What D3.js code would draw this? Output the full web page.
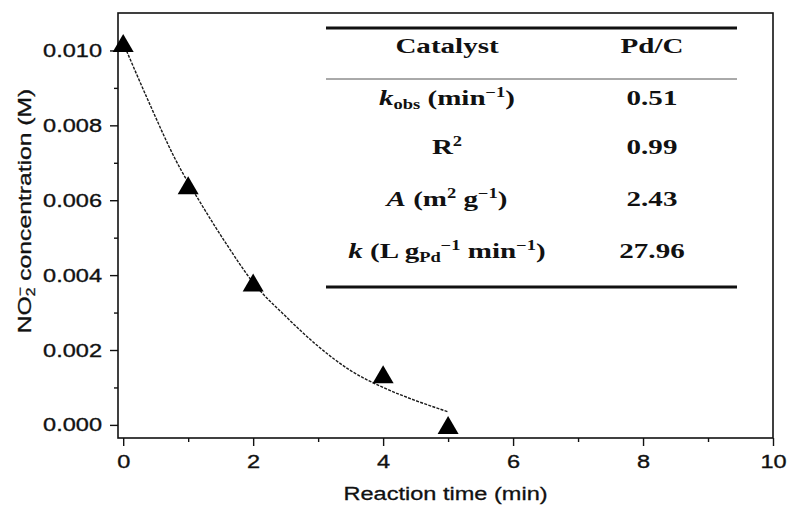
<!DOCTYPE html>
<html>
<head>
<meta charset="utf-8">
<script src="https://cdn.jsdelivr.net/npm/d3@7"></script>
<style>
  html, body { margin: 0; padding: 0; background: #fff; }
  svg { display: block; }
  .axis text { font-family: "Liberation Sans", Arial, sans-serif; font-size: 19px; fill: #111; stroke: #111; stroke-width: 0.35; }
  .axis line { stroke: #111; stroke-width: 1.4; }
  .title { font-family: "Liberation Sans", Arial, sans-serif; font-size: 19px; fill: #111; stroke: #111; stroke-width: 0.3; }
  .tbl text { font-family: "Liberation Serif", "Times New Roman", serif; font-weight: bold; font-size: 22px; fill: #111; }
</style>
</head>
<body>
<svg id="chart" width="789" height="508"></svg>
<script>
// Measured NO2- concentration over time
const times = [0, 1, 2, 4, 5];
const conc = [0.0102, 0.0064, 0.0038, 0.00135, 0.0000];

// Fitted decay curve
const fitTimes = [0, 0.4, 0.8, 1.2, 1.6, 2.0, 2.5, 3.0, 3.5, 4.0, 4.5, 5.0];
const fitConc = [0.0102, 0.0086, 0.0071, 0.0059, 0.0048, 0.0038, 0.0029, 0.0021, 0.00145, 0.0010, 0.00065, 0.00035];

// Axis ticks
const xMajor = [0, 2, 4, 6, 8, 10];
const xMinor = [1, 3, 5, 7, 9];
const yMajor = [0, 0.002, 0.004, 0.006, 0.008, 0.010];
const yMinor = [0.001, 0.003, 0.005, 0.007, 0.009];

// Inset table
const tableHeader = ["Catalyst", "Pd/C"];
const tableValues = ["0.51", "0.99", "2.43", "27.96"];

const svg = d3.select("#chart");
const stretch = 1.24;

const x = d3.scaleLinear().domain([-0.08, 10]).range([118, 773]);
const y = d3.scaleLinear().domain([-0.00035, 0.011]).range([438, 13]);

// Axes: major ticks with labels, minor ticks without
const gx = svg.append("g").attr("class", "axis").attr("transform", `translate(0,${y.range()[0]})`);
gx.call(d3.axisBottom(x).tickValues(xMajor).tickSize(8).tickFormat(d3.format("d")));
gx.select(".domain").remove();
gx.selectAll("text").attr("y", 17).attr("transform", `scale(${stretch},1)`);
const gx2 = svg.append("g").attr("class", "axis").attr("transform", `translate(0,${y.range()[0]})`);
gx2.call(d3.axisBottom(x).tickValues(xMinor).tickSize(4).tickFormat(""));
gx2.select(".domain").remove();

const gy = svg.append("g").attr("class", "axis").attr("transform", `translate(${x.range()[0]},0)`);
gy.call(d3.axisLeft(y).tickValues(yMajor).tickSize(8).tickFormat(d3.format(".3f")));
gy.select(".domain").remove();
gy.selectAll("text").attr("x", -16 / stretch).attr("transform", `scale(${stretch},1)`);
const gy2 = svg.append("g").attr("class", "axis").attr("transform", `translate(${x.range()[0]},0)`);
gy2.call(d3.axisLeft(y).tickValues(yMinor).tickSize(4).tickFormat(""));
gy2.select(".domain").remove();

// Plot frame
svg.append("rect")
  .attr("x", x.range()[0]).attr("y", y.range()[1])
  .attr("width", x.range()[1] - x.range()[0])
  .attr("height", y.range()[0] - y.range()[1])
  .attr("fill", "none").attr("stroke", "#111").attr("stroke-width", 1.6);

// Axis titles
svg.append("g")
  .attr("transform", `translate(${(x.range()[0] + x.range()[1]) / 2},500) scale(${stretch},1)`)
  .append("text").attr("class", "title")
  .attr("text-anchor", "middle")
  .text("Reaction time (min)");

const yt = svg.append("g")
  .attr("transform", `translate(31,211) rotate(-90) scale(1.3,1)`)
  .append("text").attr("class", "title")
  .attr("text-anchor", "middle");
yt.append("tspan").text("NO");
yt.append("tspan").attr("dy", -7).style("font-size", "12px").text("\u2212");
yt.append("tspan").attr("dx", -7).attr("dy", 11).style("font-size", "12px").text("2");
yt.append("tspan").attr("dy", -4).text(" concentration (M)");

// Fitted curve
const fitLine = d3.line()
  .x((d, i) => x(fitTimes[i]))
  .y(d => y(d))
  .curve(d3.curveMonotoneX);
svg.append("path")
  .datum(fitConc)
  .attr("d", fitLine)
  .attr("fill", "none")
  .attr("stroke", "#1a1a1a")
  .attr("stroke-width", 1.4)
  .attr("stroke-dasharray", "3,1.3");

// Triangle markers
const triW = 21, triH = 18;
function triangle() {
  const p = d3.path();
  p.moveTo(0, -triH / 2);
  p.lineTo(triW / 2, triH / 2);
  p.lineTo(-triW / 2, triH / 2);
  p.closePath();
  return p.toString();
}
svg.append("g").selectAll("path")
  .data(conc)
  .join("path")
  .attr("d", triangle())
  .attr("transform", (d, i) => `translate(${x(times[i])},${y(d)})`)
  .attr("fill", "#000");

// Inset table
const tbl = svg.append("g").attr("class", "tbl");
const tx0 = 326, tx1 = 737;
const col1 = 447, col2 = 652;
tbl.append("line").attr("x1", tx0).attr("x2", tx1).attr("y1", 28).attr("y2", 28)
  .attr("stroke", "#111").attr("stroke-width", 3);
tbl.append("line").attr("x1", tx0).attr("x2", tx1).attr("y1", 79).attr("y2", 79)
  .attr("stroke", "#555").attr("stroke-width", 1);
tbl.append("line").attr("x1", tx0).attr("x2", tx1).attr("y1", 287).attr("y2", 287)
  .attr("stroke", "#111").attr("stroke-width", 3);

const tStretch = 1.32;
function cell(cx, cy) {
  return tbl.append("g")
    .attr("transform", `translate(${cx},${cy}) scale(${tStretch},1)`)
    .append("text").attr("text-anchor", "middle");
}

cell(col1, 53).text(tableHeader[0]);
cell(col2, 53).text(tableHeader[1]);

const rowY = [105, 154, 206, 258];

// k_obs (min^-1)
let t = cell(col1, rowY[0]);
t.append("tspan").style("font-style", "italic").text("k");
t.append("tspan").attr("dy", 4).style("font-size", "14px").text("obs");
t.append("tspan").attr("dy", -4).text(" (min");
t.append("tspan").attr("dy", -8).style("font-size", "14px").text("\u22121");
t.append("tspan").attr("dy", 8).text(")");

// R^2
t = cell(col1, rowY[1]);
t.append("tspan").text("R");
t.append("tspan").attr("dy", -8).style("font-size", "14px").text("2");

// A (m^2 g^-1)
t = cell(col1, rowY[2]);
t.append("tspan").style("font-style", "italic").text("A");
t.append("tspan").text(" (m");
t.append("tspan").attr("dy", -8).style("font-size", "14px").text("2");
t.append("tspan").attr("dy", 8).text(" g");
t.append("tspan").attr("dy", -8).style("font-size", "14px").text("\u22121");
t.append("tspan").attr("dy", 8).text(")");

// k (L gPd^-1 min^-1)
t = cell(col1, rowY[3]);
t.append("tspan").style("font-style", "italic").text("k");
t.append("tspan").text(" (L g");
t.append("tspan").attr("dy", 4).style("font-size", "14px").text("Pd");
t.append("tspan").attr("dy", -12).style("font-size", "14px").text("\u22121");
t.append("tspan").attr("dy", 8).text(" min");
t.append("tspan").attr("dy", -8).style("font-size", "14px").text("\u22121");
t.append("tspan").attr("dy", 8).text(")");

tableValues.forEach((v, i) => cell(col2, rowY[i]).text(v));
</script>
</body>
</html>
